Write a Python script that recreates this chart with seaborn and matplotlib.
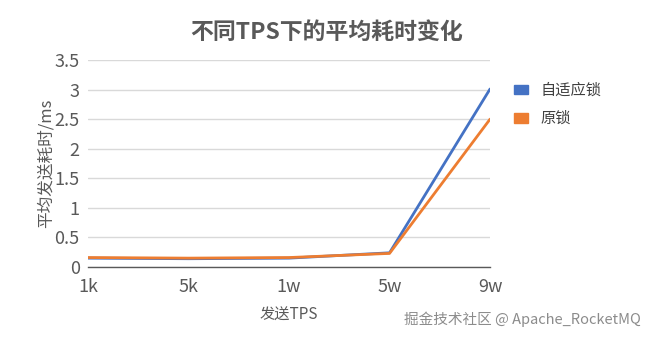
import matplotlib
matplotlib.use("Agg")
import matplotlib.pyplot as plt
import seaborn as sns
import pandas as pd
from matplotlib.patches import Patch

categories = ["1k", "5k", "1w", "5w", "9w"]
adaptive = [0.15, 0.14, 0.15, 0.24, 3.01]
original = [0.16, 0.15, 0.16, 0.23, 2.50]
series_names = ["自适应锁", "原锁"]
yticks = [0, 0.5, 1, 1.5, 2, 2.5, 3, 3.5]
ytick_labels = ["0", "0.5", "1", "1.5", "2", "2.5", "3", "3.5"]

sns.set_theme(style="white")
plt.rcParams['font.family'] = ['Noto Sans CJK SC', 'DejaVu Sans']

colors = ["#4472C4", "#ED7D31"]
rows = []
for name, vals in zip(series_names, [adaptive, original]):
    for i, (c, v) in enumerate(zip(categories, vals)):
        rows.append({"pos": i, "cat": c, "value": v, "series": name})
df = pd.DataFrame(rows)

fig = plt.figure(figsize=(6.54, 3.4), dpi=100)
ax = fig.add_axes([0.1346, 0.2147, 0.6147, 0.6088])
sns.lineplot(data=df, x="pos", y="value", hue="series", hue_order=series_names,
             palette=colors, linewidth=2.0, ax=ax, legend=False, sort=False)

ax.set_xlim(0, len(categories) - 1)
ax.set_ylim(0, 3.5)
ax.set_xticks(range(len(categories)))
ax.set_xticklabels(categories)
ax.set_yticks(yticks)
ax.set_yticklabels(ytick_labels)
ax.tick_params(axis="both", length=0, labelsize=13, labelcolor="#595959")
ax.tick_params(axis="x", pad=8)
ax.tick_params(axis="y", pad=6)
ax.yaxis.grid(True, color="#D9D9D9", linewidth=1)
ax.set_axisbelow(True)
for s in ["top", "right", "left"]:
    ax.spines[s].set_visible(False)
ax.spines["bottom"].set_color("#595959")
ax.spines["bottom"].set_linewidth(1)

ax.set_xlabel("发送TPS", fontsize=11, color="#595959", labelpad=8)
ax.set_ylabel("平均发送耗时/ms", fontsize=12, color="#595959", labelpad=0)

fig.text(0.5, 0.905, "不同TPS下的平均耗时变化", ha="center", va="center",
         fontsize=16.5, fontweight="bold", color="#595959")

handles = [Patch(facecolor=c, edgecolor=c) for c in colors]
fig.legend(handles, series_names, loc="upper left", bbox_to_anchor=(0.765, 0.8),
           frameon=False, fontsize=11, handlelength=0.9, handleheight=0.6,
           labelspacing=0.75, handletextpad=0.8, labelcolor="#404040",
           prop={"weight": "medium", "size": 11})

fig.text(0.98, 0.06, "掘金技术社区 @ Apache_RocketMQ", ha="right", va="center",
         fontsize=10.5, color="#8C8C8C")

fig.savefig("out.png", dpi=100)
